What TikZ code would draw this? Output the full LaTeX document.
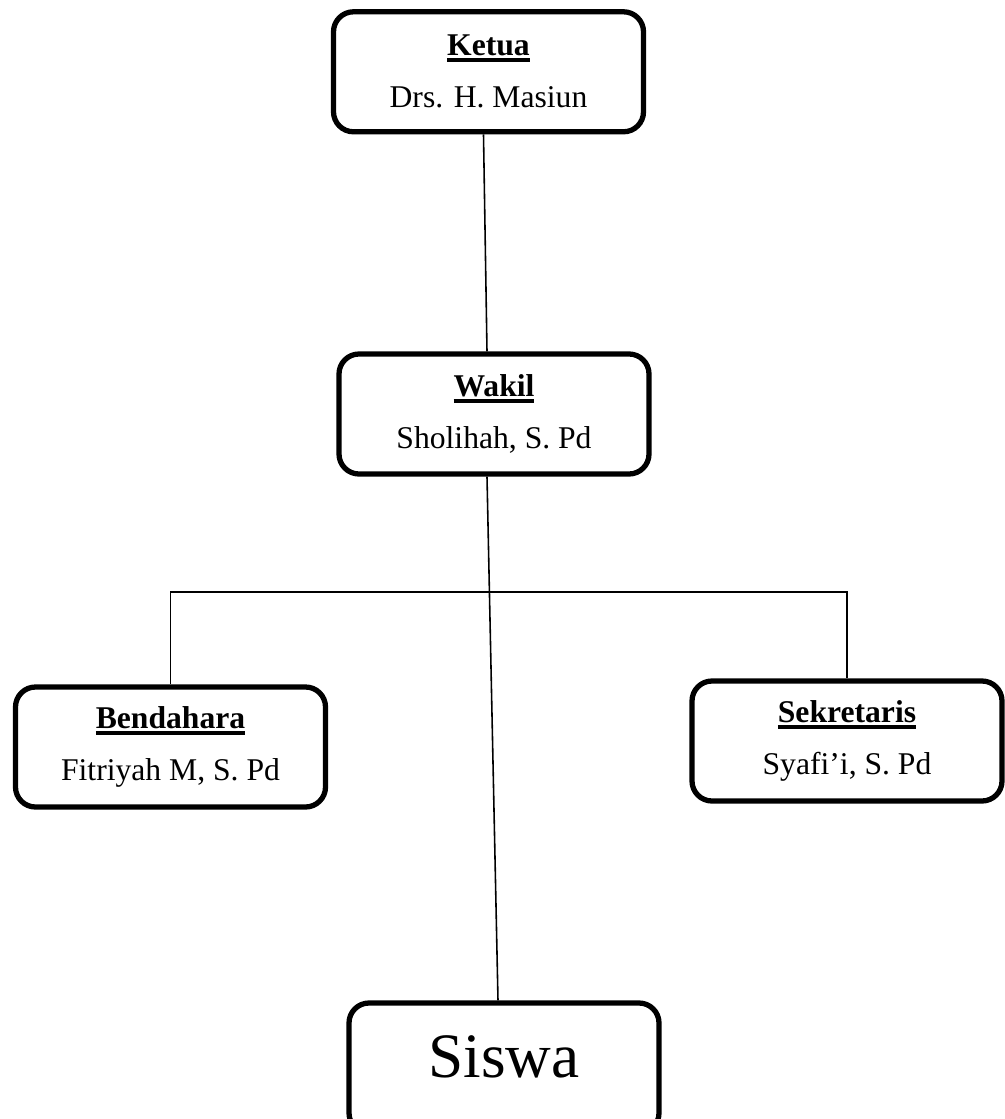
\documentclass[tikz,border=0pt]{standalone}
\usepackage{fontspec}
\setmainfont{Liberation Serif}
\newcommand{\jabatan}[1]{\setbox0\hbox{\bfseries #1}\rlap{\rule[-0.12cm]{\wd0}{0.08cm}}\box0}
\begin{document}
\begin{tikzpicture}[scale=0.2]
\tikzstyle{every node}+=[inner sep=0pt]
\tikzstyle{kotak}=[draw=black, line width=3pt, rounded corners=0.4cm, minimum width=6.2cm, minimum height=2.4cm, align=center, font=\fontsize{18}{29.6}\selectfont]
\tikzstyle{garis}=[black, line width=0.9pt]
\useasboundingbox (0,0) rectangle (100.4,-111.9);
\draw (48.85,-7.18) node [kotak] (ketua) {\jabatan{Ketua}\\Drs. H. Masiun};
\draw (49.4,-41.4) node [kotak] (wakil) {\jabatan{Wakil}\\Sholihah, S. Pd};
\draw (17.05,-74.7) node [kotak] (bendahara) {\jabatan{Bendahara}\\Fitriyah M, S. Pd};
\draw (84.7,-74.1) node [kotak] (sekretaris) {\jabatan{Sekretaris}\\Syafi’i, S. Pd};
\draw (50.4,-106.8) node [kotak, minimum height=2.6cm, text depth=0.46cm, font=\fontsize{36}{40}\selectfont] (siswa) {Siswa};
\coordinate (cabang) at (0,-59.2);
\draw [garis] ([xshift=-0.5cm]ketua.south) -- ([xshift=-0.7cm]wakil.north);
\draw [garis] ([xshift=-0.7cm]wakil.south) -- ([xshift=-0.6cm]siswa.north);
\draw [garis] (bendahara.north) -- (bendahara.north |- cabang) -- (sekretaris.north |- cabang) -- (sekretaris.north);
\end{tikzpicture}
\end{document}
